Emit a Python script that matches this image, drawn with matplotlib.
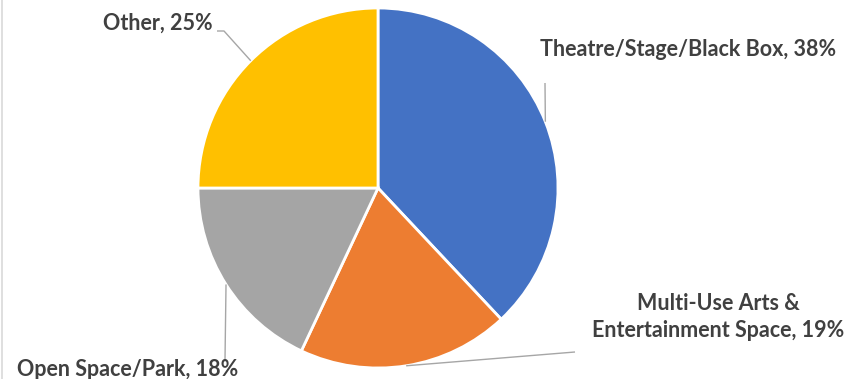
import matplotlib
matplotlib.use("Agg")
import matplotlib.pyplot as plt
import numpy as np

categories = [
    "Theatre/Stage/Black Box",
    "Multi-Use Arts &\nEntertainment Space",
    "Open Space/Park",
    "Other",
]
shares = [38, 19, 18, 25]
colors = ["#4472C4", "#ED7D31", "#A5A5A5", "#FFC000"]

W, H = 864, 379
CX, CY, R = 378, 379 - 188, 180

# label centres
label_pos = [
    (688, 379 - 49),
    (718, 379 - 317),
    (128, 379 - 370),
    (158, 379 - 23),
]
# where each leader line stops near its label
leader_end = [
    (545, 379 - 83),
    (575, 379 - 352),
    (225, 379 - 360),
    (224, 379 - 31),
]

plt.rcParams["font.family"] = ["Lato", "DejaVu Sans"]

fig = plt.figure(figsize=(W / 100, H / 100), dpi=100)
ax = fig.add_axes([0, 0, 1, 1])

wedges, _ = ax.pie(
    shares,
    colors=colors,
    startangle=90,
    counterclock=False,
    center=(CX, CY),
    radius=R,
    wedgeprops={"edgecolor": "white", "linewidth": 2},
    frame=True,
)
ax.set_xlim(0, W)
ax.set_ylim(0, H)
ax.set_aspect("equal")
ax.axis("off")

for wedge, name, share, (tx, ty), (lx, ly) in zip(
    wedges, categories, shares, label_pos, leader_end
):
    mid = np.deg2rad((wedge.theta1 + wedge.theta2) / 2)
    ex = CX + R * np.cos(mid)
    ey = CY + R * np.sin(mid)
    if name == "Other":
        xs, ys = [ex, lx, 217], [ey, ly, ly]
    else:
        xs, ys = [ex, lx], [ey, ly]
    ax.plot(xs, ys, color="#A6A6A6", linewidth=1, solid_capstyle="butt")
    ax.text(tx, ty, f"{name}, {share}%", ha="center", va="center",
            fontsize=15.5, fontweight="bold", color="#404040",
            linespacing=1.3, multialignment="center")

# thin frame line at the left edge of the chart area
ax.plot([2, 2], [0, H], color="#D9D9D9", linewidth=1.2)

fig.savefig("out.png", dpi=100)
